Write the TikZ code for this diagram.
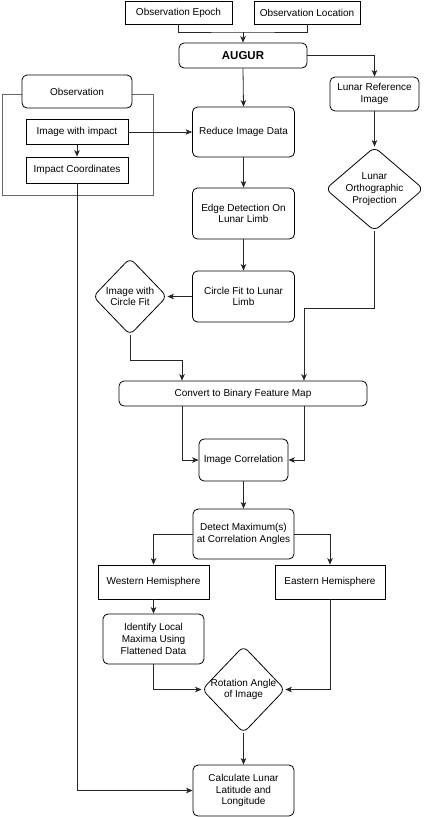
\documentclass[tikz,border=0pt]{standalone}
\usepackage{fontspec}
\setmainfont{Liberation Sans}
\usetikzlibrary{shapes.geometric,arrows.meta,calc}
\begin{document}
\begin{tikzpicture}[x=1pt,y=-1pt,
  every node/.style={font=\fontsize{10}{11.7}\selectfont, inner sep=0pt, align=center},
  sqbox/.style={draw=black, line width=0.8pt, fill=white, rectangle},
  rbox/.style={draw=black, line width=0.8pt, fill=white, rectangle, rounded corners=5pt},
  dia/.style={draw=black, line width=0.8pt, fill=white, diamond, rounded corners=6pt},
  conn/.style={draw=black!85, line width=0.8pt},
  arr/.style={conn, -{Stealth[length=6.5pt,width=5.5pt,inset=1.8pt]}},
  container/.style={draw=black!60, line width=1pt}
]
\useasboundingbox (0,0) rectangle (428,817);

% top inputs
\node[sqbox, minimum width=107pt, minimum height=23pt] (epoch) at (178.5,12.5) {Observation Epoch};
\node[sqbox, minimum width=106pt, minimum height=23pt] (loc) at (307,12.5) {Observation Location};
\node[rbox, minimum width=128pt, minimum height=25pt, font=\fontsize{11.5}{13}\selectfont\bfseries] (augur) at (243,55.5) {AUGUR};
\coordinate (jtop) at (243,32);
\draw[conn] (epoch.south) |- (jtop) -| (loc.south);
\draw[arr] (jtop) -- (augur.north);

% right branch
\node[rbox, minimum width=89pt, minimum height=34pt] (lri) at (374.5,94) {Lunar Reference\\Image};
\node[dia, minimum width=98pt, minimum height=84pt] (lop) at (374.5,189) {};
\node (loptxt) at (lop.center) {Lunar\\Orthographic\\Projection};
\draw[arr] (augur.east) -| (lri.north);
\draw[arr] (lri.south) -- (lop.north);

% observation container
\draw[container] (2,94) rectangle (153,195);
\node[rbox, minimum width=110pt, minimum height=33pt] (obs) at (77,91.5) {Observation};
\node[sqbox, minimum width=102pt, minimum height=25pt] (iwi) at (77,132) {Image with impact};
\node[sqbox, minimum width=102pt, minimum height=26pt] (impc) at (77,170) {Impact Coordinates};
\draw[arr] (iwi.south) -- (impc.north);

% central column
\node[rbox, minimum width=102pt, minimum height=50pt] (rid) at (243.5,132) {Reduce Image Data};
\node[rbox, minimum width=102pt, minimum height=51pt] (edge) at (243.5,213.5) {Edge Detection On\\Lunar Limb};
\node[rbox, minimum width=102pt, minimum height=51pt] (cfit) at (243.5,296.5) {Circle Fit to Lunar\\Limb};
\node[dia, minimum width=74pt, minimum height=77pt] (icf) at (130,296.5) {};
\node (icftxt) at (icf.center) {Image with\\Circle Fit};
\node[rbox, minimum width=248pt, minimum height=25pt] (conv) at (243,393.5) {Convert to Binary Feature Map};
\node[rbox, minimum width=89pt, minimum height=42pt] (icorr) at (243.5,460) {Image Correlation};
\node[rbox, minimum width=101pt, minimum height=50pt] (det) at (243.5,534) {Detect Maximum(s)\\at Correlation Angles};
\node[sqbox, minimum width=111pt, minimum height=34pt] (west) at (153.5,582) {Western Hemisphere};
\node[sqbox, minimum width=110pt, minimum height=34pt] (east) at (330,582) {Eastern Hemisphere};
\node[rbox, minimum width=101pt, minimum height=50pt] (ident) at (153.5,639) {Identify Local\\Maxima Using\\Flattened Data};
\node[dia, minimum width=83pt, minimum height=87pt] (rot) at (243.5,689.5) {};
\node (rottxt) at (rot.center) {Rotation Angle\\of Image};
\node[rbox, minimum width=101pt, minimum height=51pt] (calc) at (243.5,790.5) {Calculate Lunar\\Latitude and\\Longitude};

% connectors
\draw[arr] (augur.south) -- (rid.north);
\draw[arr] (iwi.east) -- (rid.west);
\draw[arr] (rid.south) -- (edge.north);
\draw[arr] (edge.south) -- (cfit.north);
\draw[arr] (cfit.west) -- (icf.east);

\coordinate (cl) at (182,360);
\coordinate (cr) at (304,308);
\draw[arr] (icf.south) |- (cl) -- (cl |- conv.north);
\draw[arr] (lop.south) |- (cr) -- (cr |- conv.north);
\draw[arr] (cl |- conv.south) |- (icorr.west);
\draw[arr] (cr |- conv.south) |- (icorr.east);

\draw[arr] (icorr.south) -- (det.north);
\draw[arr] (det.west) -| (west.north);
\draw[arr] (det.east) -| (east.north);
\draw[arr] (west.south) -- (ident.north);
\draw[arr] (ident.south) |- (rot.west);
\draw[arr] (east.south) |- (rot.east);
\draw[arr] (rot.south) -- (calc.north);
\draw[arr] (impc.south) |- (calc.west);
\end{tikzpicture}
\end{document}
